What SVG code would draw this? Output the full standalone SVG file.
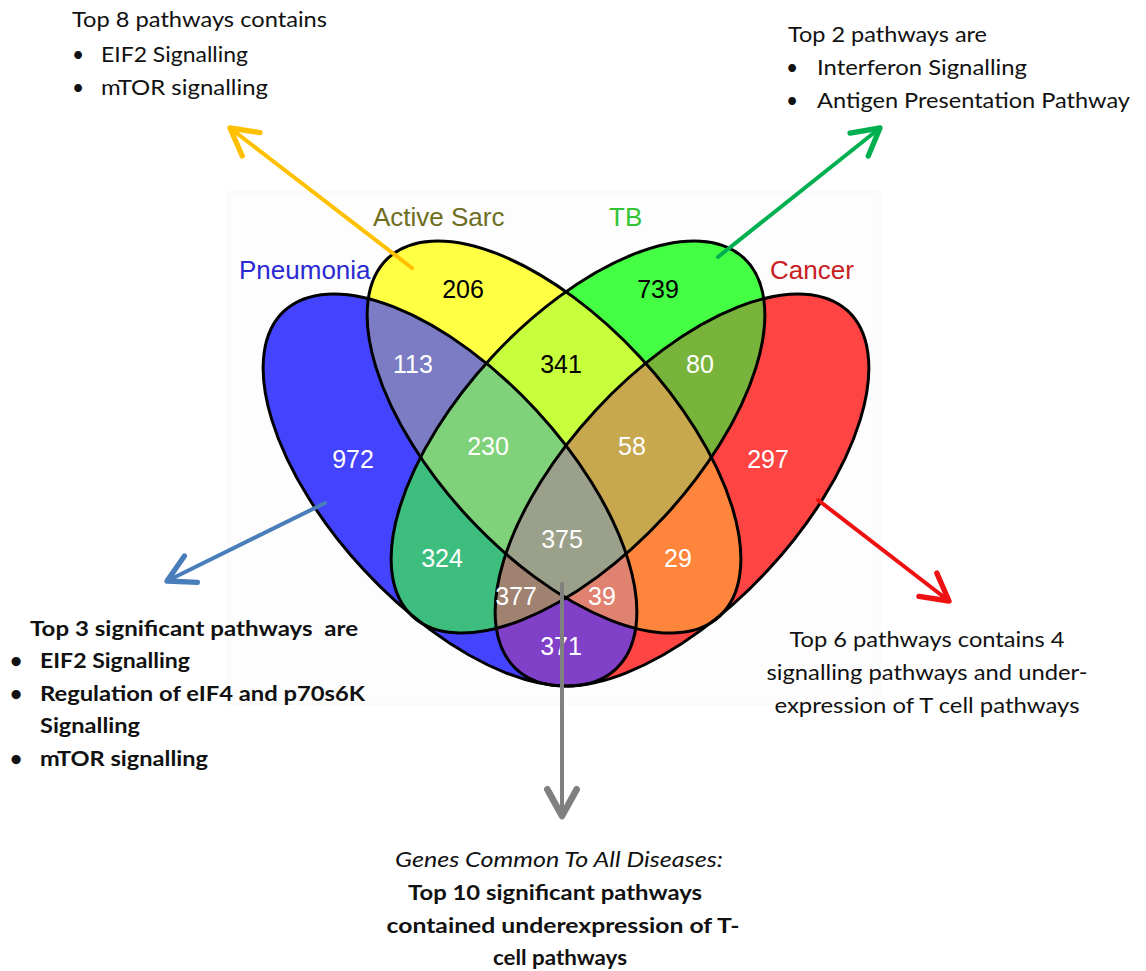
<svg xmlns="http://www.w3.org/2000/svg" xmlns:xlink="http://www.w3.org/1999/xlink" width="1146" height="971" viewBox="0 0 1146 971">
  <style>
    .set { font-family: "Liberation Sans", Arial, sans-serif; font-size: 26px; }
    .num { font-family: "Liberation Sans", Arial, sans-serif; font-size: 25px; text-anchor: middle; }
    .w { fill: #ffffff; }
    .k { fill: #000000; }
    .note { font-family: Lato, "Open Sans", sans-serif; font-size: 21px; fill: #111111; }
    .bold { font-weight: bold; }
    .ital { font-style: italic; }
    .mid { text-anchor: middle; }
    .outline { fill: none; stroke: #000000; stroke-width: 3; }
    .arrow { fill: none; stroke-width: 4; stroke-linecap: round; }
  </style>
  <defs>
    <!-- the four set ellipses -->
    <ellipse id="eP" rx="244" ry="117.5" transform="translate(450 490) rotate(47.2)"/>
    <ellipse id="eA" rx="244" ry="117.5" transform="translate(554 437) rotate(47.2)"/>
    <ellipse id="eT" rx="244" ry="117.5" transform="translate(578 437) rotate(-47.2)"/>
    <ellipse id="eC" rx="244" ry="117.5" transform="translate(682 490) rotate(-47.2)"/>
    <clipPath id="cP"><use xlink:href="#eP"/></clipPath>
    <clipPath id="cA"><use xlink:href="#eA"/></clipPath>
    <clipPath id="cT"><use xlink:href="#eT"/></clipPath>
    <clipPath id="cC"><use xlink:href="#eC"/></clipPath>
    <!-- open chevron heads -->
    <marker id="hGold" markerUnits="userSpaceOnUse" orient="auto" refX="0" refY="0" markerWidth="40" markerHeight="40" viewBox="-25 -15 30 30" overflow="visible">
      <path d="M-20 -11 L0 0 L-20 11" fill="none" stroke="#FFC000" stroke-width="4" stroke-linecap="round" stroke-linejoin="round"/>
    </marker>
    <marker id="hGreen" markerUnits="userSpaceOnUse" orient="auto" refX="0" refY="0" markerWidth="40" markerHeight="40" viewBox="-25 -15 30 30" overflow="visible">
      <path d="M-20 -11 L0 0 L-20 11" fill="none" stroke="#00B050" stroke-width="4" stroke-linecap="round" stroke-linejoin="round"/>
    </marker>
    <marker id="hBlue" markerUnits="userSpaceOnUse" orient="auto" refX="0" refY="0" markerWidth="40" markerHeight="40" viewBox="-25 -15 30 30" overflow="visible">
      <path d="M-20 -11 L0 0 L-20 11" fill="none" stroke="#4A7EBB" stroke-width="4" stroke-linecap="round" stroke-linejoin="round"/>
    </marker>
    <marker id="hRed" markerUnits="userSpaceOnUse" orient="auto" refX="0" refY="0" markerWidth="40" markerHeight="40" viewBox="-25 -15 30 30" overflow="visible">
      <path d="M-20 -11 L0 0 L-20 11" fill="none" stroke="#EE1111" stroke-width="4" stroke-linecap="round" stroke-linejoin="round"/>
    </marker>
    <marker id="hGrey" markerUnits="userSpaceOnUse" orient="auto" refX="0" refY="0" markerWidth="40" markerHeight="40" viewBox="-25 -15 30 30" overflow="visible">
      <path d="M-20 -11 L0 0 L-20 11" fill="none" stroke="#808080" stroke-width="5" stroke-linecap="round" stroke-linejoin="round"/>
    </marker>
  </defs>

  <rect width="1146" height="971" fill="#ffffff"/>
  <!-- pasted plot panel -->
  <rect x="228" y="192" width="652" height="512" fill="#fdfdfd" stroke="#f6f6f6" stroke-width="1"/>

  <!-- region fills, painted from single sets up to the four-way core -->
  <g id="regions">
    <use xlink:href="#eP" fill="#4444FF"/>
    <use xlink:href="#eA" fill="#FFFF44"/>
    <use xlink:href="#eT" fill="#44FF44"/>
    <use xlink:href="#eC" fill="#FF4444"/>
    <g clip-path="url(#cP)"><use xlink:href="#eA" fill="#7C7CC4"/></g>
    <g clip-path="url(#cP)"><use xlink:href="#eT" fill="#3DBE7E"/></g>
    <g clip-path="url(#cP)"><use xlink:href="#eC" fill="#8040C8"/></g>
    <g clip-path="url(#cA)"><use xlink:href="#eT" fill="#C8FF3C"/></g>
    <g clip-path="url(#cA)"><use xlink:href="#eC" fill="#FF843C"/></g>
    <g clip-path="url(#cT)"><use xlink:href="#eC" fill="#78B43C"/></g>
    <g clip-path="url(#cP)"><g clip-path="url(#cA)"><use xlink:href="#eT" fill="#80D27A"/></g></g>
    <g clip-path="url(#cP)"><g clip-path="url(#cA)"><use xlink:href="#eC" fill="#E08270"/></g></g>
    <g clip-path="url(#cP)"><g clip-path="url(#cT)"><use xlink:href="#eC" fill="#A08270"/></g></g>
    <g clip-path="url(#cA)"><g clip-path="url(#cT)"><use xlink:href="#eC" fill="#C8A84E"/></g></g>
    <g clip-path="url(#cP)"><g clip-path="url(#cA)"><g clip-path="url(#cT)"><use xlink:href="#eC" fill="#9BA08A"/></g></g></g>
  </g>

  <!-- set outlines and names -->
  <g id="set-pneumonia">
    <use xlink:href="#eP" class="outline"/>
    <text class="set" x="239" y="279" fill="#2A2AD2">Pneumonia</text>
  </g>
  <g id="set-active-sarc">
    <use xlink:href="#eA" class="outline"/>
    <text class="set" x="373" y="226" fill="#6E6E1E">Active Sarc</text>
  </g>
  <g id="set-tb">
    <use xlink:href="#eT" class="outline"/>
    <text class="set" x="609" y="226" fill="#33C433">TB</text>
  </g>
  <g id="set-cancer">
    <use xlink:href="#eC" class="outline"/>
    <text class="set" x="770" y="279" fill="#C82020">Cancer</text>
  </g>

  <!-- region counts -->
  <g id="counts">
    <text class="num k" x="463" y="298">206</text>
    <text class="num k" x="658" y="298">739</text>
    <text class="num w" x="413" y="373">113</text>
    <text class="num k" x="561" y="373">341</text>
    <text class="num w" x="700" y="373">80</text>
    <text class="num w" x="353" y="468">972</text>
    <text class="num w" x="488" y="455">230</text>
    <text class="num w" x="632" y="455">58</text>
    <text class="num w" x="768" y="468">297</text>
    <text class="num w" x="562" y="548">375</text>
    <text class="num w" x="442" y="567">324</text>
    <text class="num w" x="678" y="567">29</text>
    <text class="num w" x="516" y="605">377</text>
    <text class="num w" x="602" y="605">39</text>
    <text class="num w" x="561" y="655">371</text>
  </g>

  <!-- callout arrows -->
  <g id="connectors">
    <line class="arrow" x1="412" y1="268" x2="230" y2="128" stroke="#FFC000" marker-end="url(#hGold)"/>
    <line class="arrow" x1="718" y1="257" x2="880" y2="128" stroke="#00B050" marker-end="url(#hGreen)"/>
    <line class="arrow" x1="325" y1="503" x2="167" y2="581" stroke="#4A7EBB" marker-end="url(#hBlue)"/>
    <line class="arrow" x1="818" y1="500" x2="949" y2="601" stroke="#EE1111" marker-end="url(#hRed)"/>
    <line class="arrow" x1="562" y1="584" x2="562" y2="816" stroke="#808080" stroke-width="5" marker-end="url(#hGrey)"/>
  </g>

  <!-- pathway notes -->
  <g id="note-active-sarc" class="note">
    <text x="72" y="27" textLength="255" lengthAdjust="spacingAndGlyphs">Top 8 pathways contains</text>
    <text x="72" y="62">•</text>
    <text x="101" y="62" textLength="147" lengthAdjust="spacingAndGlyphs">EIF2 Signalling</text>
    <text x="72" y="95">•</text>
    <text x="101" y="95" textLength="167" lengthAdjust="spacingAndGlyphs">mTOR signalling</text>
  </g>

  <g id="note-tb" class="note">
    <text x="788" y="42" textLength="199" lengthAdjust="spacingAndGlyphs">Top 2 pathways are</text>
    <text x="786" y="75">•</text>
    <text x="817" y="75" textLength="210" lengthAdjust="spacingAndGlyphs">Interferon Signalling</text>
    <text x="786" y="108">•</text>
    <text x="817" y="108" textLength="313" lengthAdjust="spacingAndGlyphs">Antigen Presentation Pathway</text>
  </g>

  <g id="note-pneumonia" class="note bold">
    <text x="30" y="636" textLength="328" lengthAdjust="spacingAndGlyphs" xml:space="preserve">Top 3 significant pathways  are</text>
    <text x="10" y="668">•</text>
    <text x="40" y="668" textLength="150" lengthAdjust="spacingAndGlyphs">EIF2 Signalling</text>
    <text x="10" y="701">•</text>
    <text x="40" y="701" textLength="325" lengthAdjust="spacingAndGlyphs">Regulation of eIF4 and p70s6K</text>
    <text x="40" y="733" textLength="100" lengthAdjust="spacingAndGlyphs">Signalling</text>
    <text x="10" y="766">•</text>
    <text x="40" y="766" textLength="168" lengthAdjust="spacingAndGlyphs">mTOR signalling</text>
  </g>

  <g id="note-cancer" class="note mid">
    <text x="927" y="647" textLength="275" lengthAdjust="spacingAndGlyphs">Top 6 pathways contains 4</text>
    <text x="927" y="680" textLength="321" lengthAdjust="spacingAndGlyphs">signalling pathways and under-</text>
    <text x="927" y="713" textLength="305" lengthAdjust="spacingAndGlyphs">expression of T cell pathways</text>
  </g>

  <g id="note-common" class="note mid">
    <text class="ital" x="559" y="867" textLength="328" lengthAdjust="spacingAndGlyphs">Genes Common To All Diseases:</text>
    <text class="bold" x="555" y="900" textLength="294" lengthAdjust="spacingAndGlyphs">Top 10 significant pathways</text>
    <text class="bold" x="563" y="933" textLength="353" lengthAdjust="spacingAndGlyphs">contained underexpression of T-</text>
    <text class="bold" x="560" y="965" textLength="134" lengthAdjust="spacingAndGlyphs">cell pathways</text>
  </g>
</svg>
